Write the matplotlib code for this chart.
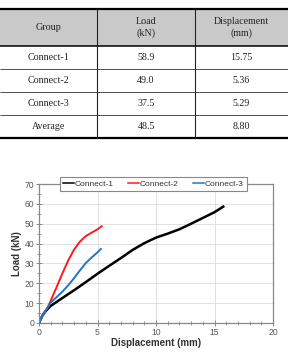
import numpy as np
import matplotlib.pyplot as plt
from matplotlib.ticker import MultipleLocator

# table data
col_heads = ['Group', 'Load\n(kN)', 'Displacement\n(mm)']
groups = ['Connect-1', 'Connect-2', 'Connect-3', 'Average']
loads = ['58.9', '49.0', '37.5', '48.5']
disps = ['15.75', '5.36', '5.29', '8.80']

# load-displacement curves
c1_x = [0, 0.15, 0.3, 0.5, 0.7, 1.0, 1.5, 2.0, 3.0, 4.0, 5.0, 6.0, 7.0, 8.0, 9.0, 10.0, 11.0, 12.0, 13.0, 14.0, 15.0, 15.75]
c1_y = [0, 2.0, 3.8, 5.5, 6.8, 8.6, 10.6, 12.6, 16.5, 20.6, 24.8, 28.8, 32.7, 36.8, 40.2, 43.0, 45.0, 47.2, 50.0, 52.9, 55.8, 58.6]
c2_x = [0, 0.15, 0.3, 0.5, 0.8, 1.0, 1.5, 2.0, 2.5, 3.0, 3.5, 4.0, 4.5, 5.0, 5.36]
c2_y = [0, 2.0, 3.8, 5.6, 8.6, 11.2, 18.0, 25.0, 31.5, 37.0, 41.0, 43.8, 45.5, 47.2, 48.7]
c3_x = [0, 0.15, 0.3, 0.5, 0.8, 1.0, 1.5, 2.0, 2.5, 3.0, 3.5, 4.0, 4.5, 5.0, 5.29]
c3_y = [0, 2.0, 3.8, 5.6, 8.2, 10.3, 13.0, 15.8, 19.0, 22.6, 26.5, 30.2, 33.0, 35.6, 37.3]

W, H = 288, 352
fig = plt.figure(figsize=(W / 100, H / 100), dpi=100)

# ---- table ----
tax = fig.add_axes([0, 0, 1, 1])
tax.set_xlim(0, W)
tax.set_ylim(H, 0)
tax.axis('off')

row_edges = [9, 46, 69, 92, 115, 138]
col_edges = [0, 97, 195, 288]
tax.fill_between([0, W], row_edges[0], row_edges[1], color='#c9c9c9', lw=0)
tax.hlines([row_edges[0], row_edges[-1]], 0, W, color='black', lw=1.6)
tax.hlines(row_edges[1], 0, W, color='black', lw=1.1)
tax.hlines(row_edges[2:-1], 0, W, color='#333333', lw=0.6)
tax.vlines(col_edges[1:-1], row_edges[0], row_edges[-1], color='#222222', lw=0.8)

tfont = dict(family='Liberation Serif', fontsize=7.2, color='#222222',
             ha='center', va='center', linespacing=1.25)
centers_x = [(col_edges[i] + col_edges[i + 1]) / 2 for i in range(3)]
for cx, head in zip(centers_x, col_heads):
    tax.text(cx, (row_edges[0] + row_edges[1]) / 2, head, **tfont)
for i, row in enumerate(zip(groups, loads, disps)):
    cy = (row_edges[i + 1] + row_edges[i + 2]) / 2
    for cx, val in zip(centers_x, row):
        tax.text(cx, cy, val, **tfont)

# ---- chart ----
ax = fig.add_axes([39 / W, 1 - 323 / H, (273 - 39) / W, (323 - 184) / H])
ax.plot(c1_x, c1_y, color='black', lw=1.8, label='Connect-1')
ax.plot(c2_x, c2_y, color='#ff1a1a', lw=1.4, label='Connect-2')
ax.plot(c3_x, c3_y, color='#1f77c4', lw=1.4, label='Connect-3')

ax.set_xlim(0, 20)
ax.set_ylim(0, 70)
ax.xaxis.set_major_locator(MultipleLocator(5))
ax.xaxis.set_minor_locator(MultipleLocator(1))
ax.yaxis.set_major_locator(MultipleLocator(10))
ax.yaxis.set_minor_locator(MultipleLocator(5))
ax.grid(True, which='major', color='#dcdcdc', lw=0.6)
ax.set_axisbelow(True)
for s in ax.spines.values():
    s.set_color('#888888')
    s.set_linewidth(0.9)
ax.tick_params(which='major', direction='inout', length=4, width=0.7,
               color='#888888', labelsize=6.2, labelcolor='#555555', pad=1.5)
ax.tick_params(which='minor', direction='inout', length=2.5, width=0.6, color='#888888')

lfont = dict(family='Liberation Sans', fontsize=7, fontweight='bold', color='#333333')
ax.set_xlabel('Displacement (mm)', labelpad=1, **lfont)
ax.set_ylabel('Load (kN)', labelpad=2, **lfont)
for lab in ax.get_xticklabels() + ax.get_yticklabels():
    lab.set_family('Liberation Sans')

leg = ax.legend(loc='center', bbox_to_anchor=(0.488, 1.0), ncol=3, frameon=True,
                fancybox=False, framealpha=1, edgecolor='#888888',
                prop={'family': 'Liberation Sans', 'size': 6.0},
                handlelength=1.3, handletextpad=0.1, columnspacing=1.7,
                borderpad=0.4, borderaxespad=0, labelcolor='#333333')
leg.get_frame().set_linewidth(0.8)
for h in leg.get_lines():
    h.set_linewidth(1.1)

fig.savefig('out.png', dpi=100)
